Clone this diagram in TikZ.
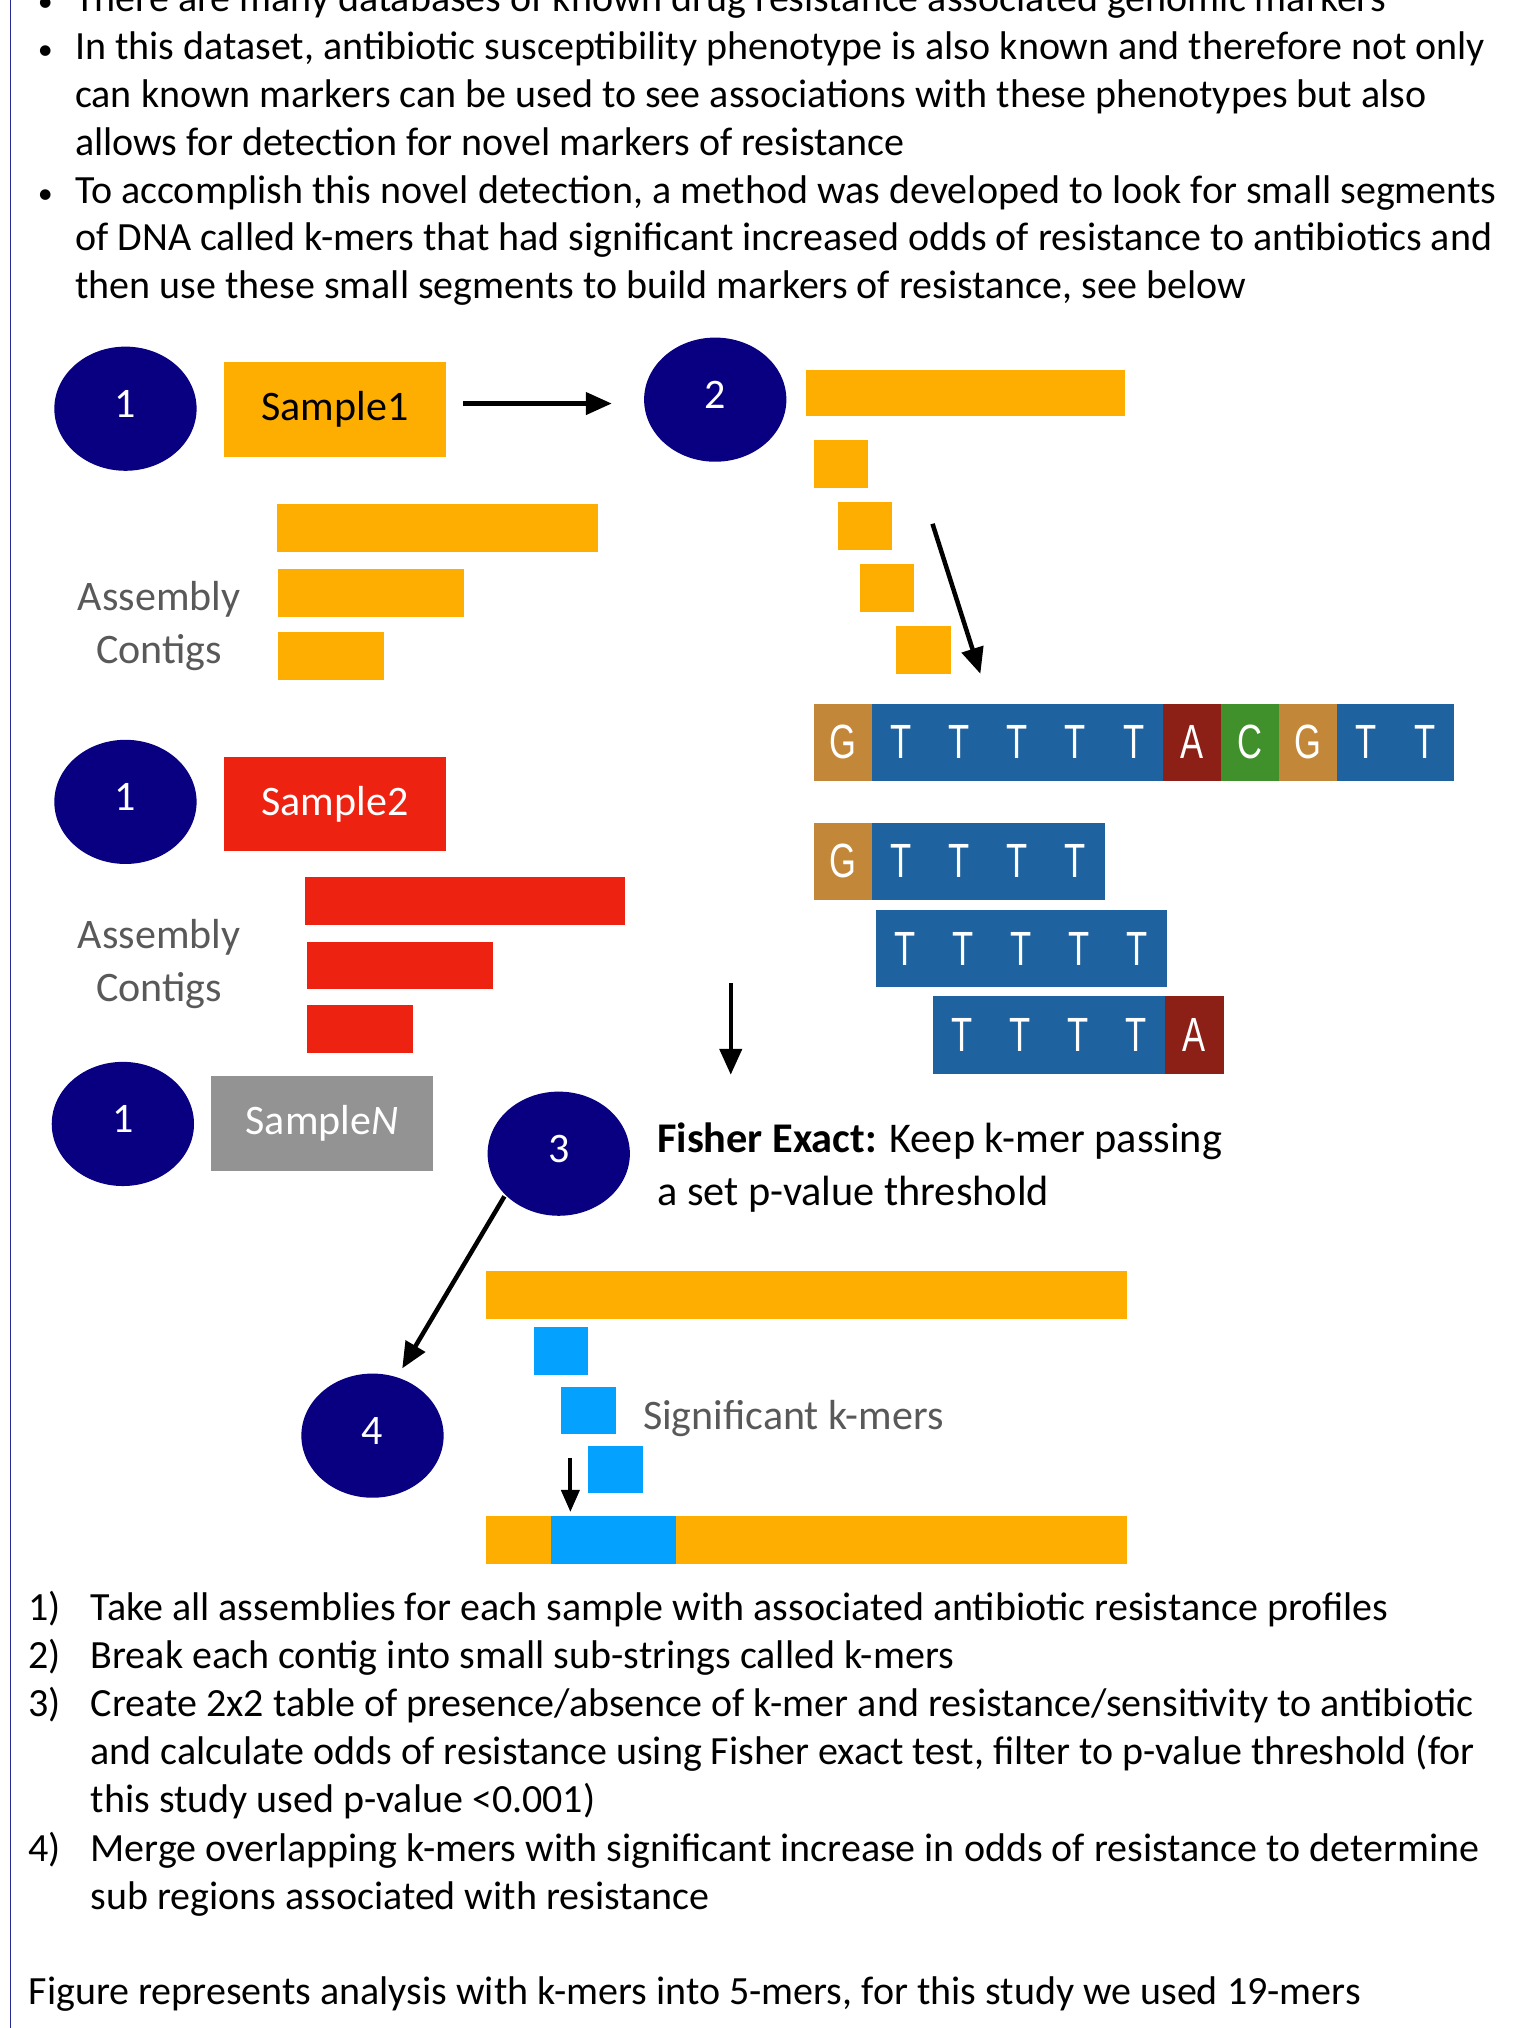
\documentclass[tikz,border=0pt]{standalone}
\usepackage{fontspec}
\setmainfont{Carlito}
\newfontfamily\seqfont{Liberation Sans}
\usetikzlibrary{shapes.geometric,arrows.meta}
\definecolor{navyc}{RGB}{8,0,128}
\definecolor{orangec}{RGB}{253,174,0}
\definecolor{redc}{RGB}{238,34,17}
\definecolor{grayboxc}{RGB}{147,147,147}
\definecolor{graytxt}{RGB}{89,89,89}
\definecolor{kblue}{RGB}{4,162,254}
\definecolor{sqbr}{RGB}{194,135,56}
\definecolor{sqbl}{RGB}{30,99,160}
\definecolor{sqrd}{RGB}{140,31,22}
\definecolor{sqgr}{RGB}{64,144,44}
\definecolor{borderc}{RGB}{40,40,150}
\def\pxs{1.2929}
\tikzset{
  bodytxt/.style={anchor=base west, inner sep=0pt, font=\fontsize{40}{48}\selectfont},
  bullet/.style={anchor=base, inner sep=0pt, font=\fontsize{30}{36}\selectfont},
  labtxt/.style={inner sep=0pt, font=\fontsize{42}{50}\selectfont, text=graytxt},
  stepcirc/.style={ellipse, fill=navyc, text=white, inner sep=0pt,
     minimum width={110*\pxs pt}, minimum height={96*\pxs pt},
     font=\fontsize{42}{50}\selectfont},
  samplebox/.style={rectangle, inner sep=0pt, minimum width={172*\pxs pt},
     minimum height={73*\pxs pt}, font=\fontsize{42}{50}\selectfont},
  seqcell/.style={rectangle, inner sep=0pt, minimum width={45*\pxs pt},
     minimum height={60*\pxs pt}, text=white,
     font=\seqfont\fontsize{48}{50}\selectfont},
  arr/.style={-{Triangle[length=26pt,width=22pt]}, line width=4.5pt, black},
}
\newcommand{\sq}[1]{\scalebox{0.72}[1]{#1}}
\newcommand{\rz}[1]{\raisebox{10pt}{#1}}
\begin{document}
\begin{tikzpicture}[x=1.2929pt,y=-1.2929pt]
\useasboundingbox (0,0) rectangle (1178,1568);
\clip (0,0) rectangle (1178,1568);
\fill[white] (0,0) rectangle (1178,1568);
% border
\draw[borderc, line width=1.6pt] (8,-10) -- (8,1580);

% bullet text
\node[bullet] (bu0) at (35,9) {•};
\node[bodytxt] (t0) at (58,9) {There are many databases of known drug resistance associated genomic markers};
\node[bullet] (bu1) at (35,46) {•};
\node[bodytxt] (t1) at (58,46) {In this dataset, antibiotic susceptibility phenotype is also known and therefore not only};
\node[bodytxt] (t2) at (58,83) {can known markers can be used to see associations with these phenotypes but also};
\node[bodytxt] (t3) at (58,120) {allows for detection for novel markers of resistance};
\node[bullet] (bu2) at (35,157) {•};
\node[bodytxt] (t4) at (58,157) {To accomplish this novel detection, a method was developed to look for small segments};
\node[bodytxt] (t5) at (58,194) {of DNA called k-mers that had significant increased odds of resistance to antibiotics and};
\node[bodytxt] (t6) at (58,231) {then use these small segments to build markers of resistance, see below};

% step 1 : samples
\node[stepcirc] (c1a) at (97,316) {\rz{1}};
\node[samplebox, fill=orangec, text=black] (s1) at (259,316.5) {Sample1};
\node[stepcirc] (c1b) at (97,620) {\rz{1}};
\node[samplebox, fill=redc, text=white] (s2) at (259,621.5) {Sample2};
\node[stepcirc] (c1c) at (95,869) {\rz{1}};
\node[samplebox, fill=grayboxc, text=white] (sn) at (249,868.5) {Sample\textit{N}};

% contigs sample 1
\fill[orangec] (214,390) rectangle (462,427);
\fill[orangec] (215,440) rectangle (359,477);
\fill[orangec] (215,489) rectangle (297,526);
\node[labtxt, anchor=base] (as1) at (123,472) {Assembly};
\node[labtxt, anchor=base] (co1) at (123,513) {Contigs};

% contigs sample 2
\fill[redc] (236,678) rectangle (483,715);
\fill[redc] (237,728) rectangle (381,765);
\fill[redc] (237,777) rectangle (319,814);
\node[labtxt, anchor=base] (as2) at (123,733) {Assembly};
\node[labtxt, anchor=base] (co2) at (123,774) {Contigs};

% arrow 1 -> 2
\coordinate (a1s) at (358,312);
\coordinate (a1e) at (473,312);
\draw[arr] (a1s) -- (a1e);

% step 2
\node[stepcirc] (c2) at (553,309) {\rz{2}};
\fill[orangec] (623,286) rectangle (870,322);
\fill[orangec] (629,340) rectangle (671,377);
\fill[orangec] (648,388) rectangle (690,425);
\fill[orangec] (665,436) rectangle (707,473);
\fill[orangec] (693,484) rectangle (735,521);
\coordinate (a2s) at (721,405);
\coordinate (a2e) at (758,521);
\draw[arr] (a2s) -- (a2e);

% full sequence
\foreach \l/\c [count=\i] in {G/sqbr,T/sqbl,T/sqbl,T/sqbl,T/sqbl,T/sqbl,A/sqrd,C/sqgr,G/sqbr,T/sqbl,T/sqbl}
  \node[seqcell, fill=\c] (q\i) at ({629+45*(\i-1)+22.5},574) {\sq{\l}};
% k-mers
\foreach \l/\c [count=\i] in {G/sqbr,T/sqbl,T/sqbl,T/sqbl,T/sqbl}
  \node[seqcell, fill=\c] (ka\i) at ({629+45*(\i-1)+22.5},666) {\sq{\l}};
\foreach \l/\c [count=\i] in {T/sqbl,T/sqbl,T/sqbl,T/sqbl,T/sqbl}
  \node[seqcell, fill=\c] (kb\i) at ({677+45*(\i-1)+22.5},733.5) {\sq{\l}};
\foreach \l/\c [count=\i] in {T/sqbl,T/sqbl,T/sqbl,T/sqbl,A/sqrd}
  \node[seqcell, fill=\c] (kc\i) at ({721+45*(\i-1)+22.5},800) {\sq{\l}};

% arrow down to 3
\coordinate (a3s) at (565,760);
\coordinate (a3e) at (565,831);
\draw[arr] (a3s) -- (a3e);

% step 3
\node[stepcirc] (c3) at (432,892) {\rz{3}};
\node[anchor=base west, inner sep=0pt, font=\fontsize{42.3}{50}\selectfont] (f1) at (508,891) {\textbf{Fisher Exact:} Keep k-mer passing};
\node[anchor=base west, inner sep=0pt, font=\fontsize{42.3}{50}\selectfont] (f2) at (508,932) {a set p-value threshold};

% arrow 3 -> 4
\coordinate (a4s) at (390,925);
\coordinate (a4e) at (311,1058);
\draw[arr] (a4s) -- (a4e);

% step 4
\node[stepcirc] (c4) at (288,1110) {\rz{4}};
\fill[orangec] (376,983) rectangle (871,1020);
\fill[kblue] (413,1026) rectangle (455,1063);
\fill[kblue] (434,1072) rectangle (476,1109);
\fill[kblue] (455,1118) rectangle (497,1154);
\node[labtxt, anchor=base west] (sig) at (497,1105) {Significant k-mers};
\coordinate (a5s) at (441,1127);
\coordinate (a5e) at (441,1169);
\draw[-{Triangle[length=22pt,width=18pt]}, line width=4pt] (a5s) -- (a5e);
\fill[orangec] (376,1172) rectangle (871,1209);
\fill[kblue] (426,1172) rectangle (523,1209);

% numbered list
\node[bodytxt] (n1) at (22,1253) {1)};
\node[bodytxt] (l1) at (70,1253) {Take all assemblies for each sample with associated antibiotic resistance profiles};
\node[bodytxt] (n2) at (22,1290) {2)};
\node[bodytxt] (l2) at (70,1290) {Break each contig into small sub-strings called k-mers};
\node[bodytxt] (n3) at (22,1327) {3)};
\node[bodytxt] (l3) at (70,1327) {Create 2x2 table of presence/absence of k-mer and resistance/sensitivity to antibiotic};
\node[bodytxt] (l3b) at (70,1364) {and calculate odds of resistance using Fisher exact test, filter to p-value threshold (for};
\node[bodytxt] (l3c) at (70,1401) {this study used p-value <0.001)};
\node[bodytxt] (n4) at (22,1439) {4)};
\node[bodytxt] (l4) at (70,1439) {Merge overlapping k-mers with significant increase in odds of resistance to determine};
\node[bodytxt] (l4b) at (70,1476) {sub regions associated with resistance};
\node[bodytxt] (fin) at (22,1550) {Figure represents analysis with k-mers into 5-mers, for this study we used 19-mers};
\end{tikzpicture}
\end{document}
